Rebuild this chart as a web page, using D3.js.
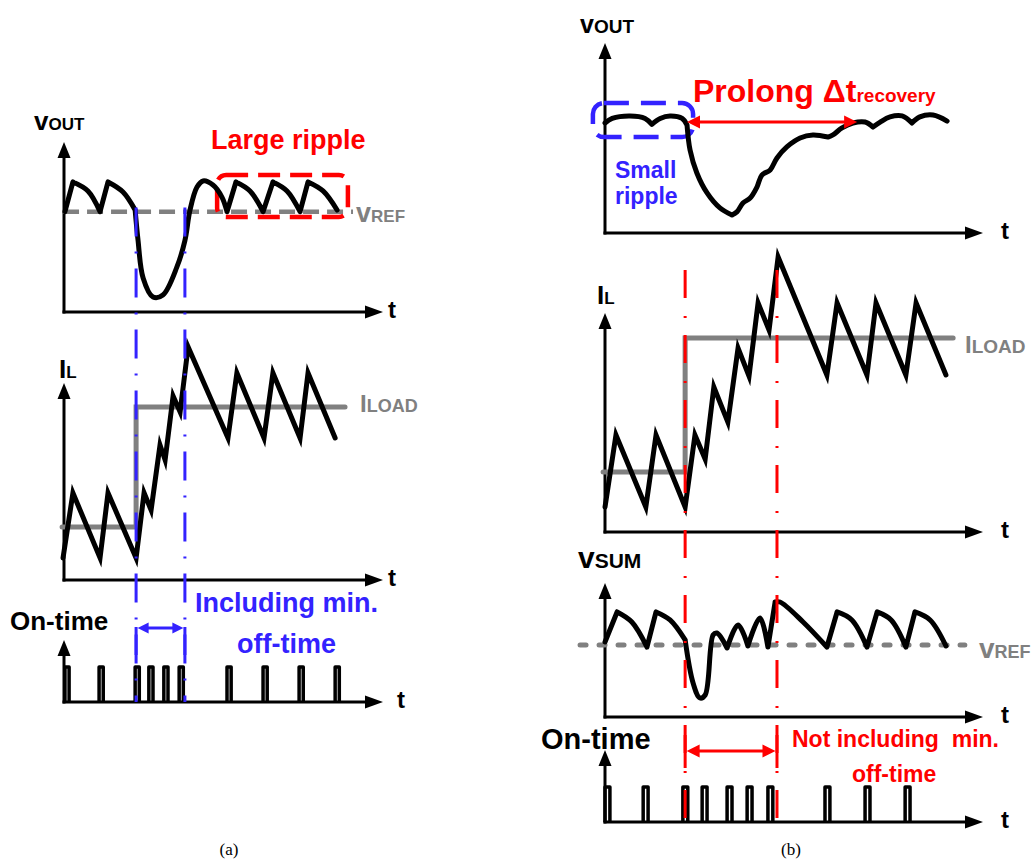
<!DOCTYPE html>
<html>
<head>
<meta charset="utf-8">
<script src="https://cdn.jsdelivr.net/npm/d3@7"></script>
<style>
  body { margin: 0; background: #fff; }
  svg { display: block; }
  text { font-family: "Liberation Sans", Arial, sans-serif; font-weight: bold; }
  .cap { font-family: "Liberation Serif", "Times New Roman", serif; font-weight: normal; }
</style>
</head>
<body>
<svg id="fig" width="1034" height="859"></svg>
<script>
// Time runs 0..100 along every panel's t axis; each signal is 0..100 of its own vertical axis.

// ---------- (a) minimum off-time included ----------
const vRefA = 59;
// vOUT split into pieces so that the switching corners stay sharp
const vOutA = [
  [[0.3, 59], [2.8, 76.5]],
  [[2.8, 76.5], [7.5, 71.2], [11.3, 59]],
  [[11.3, 59], [13.8, 76.5]],
  [[13.8, 76.5], [18.5, 70.6], [22.3, 60]],
  [[22.3, 60], [23.2, 42.4], [24.8, 20], [27.9, 8.8], [31.0, 10], [35.4, 26.5], [37.9, 42],
   [39.5, 60], [41.7, 73.5], [43.6, 77.1], [46.7, 74.7], [49.5, 67.6], [51.1, 59]],
  [[51.1, 59], [53.9, 76.5]],
  [[53.9, 76.5], [58.3, 71.2], [62.4, 59]],
  [[62.4, 59], [65.5, 76.5]],
  [[65.5, 76.5], [69.9, 71.2], [74.0, 59]],
  [[74.0, 59], [76.5, 76.5]],
  [[76.5, 76.5], [81.2, 71.2], [85.6, 60]]
];
const rippleBoxA = [[48.0, 80.6], [89.0, 55.9]];
const iLA = [[-0.3, 11.2], [2.8, 44.2], [11.3, 11.2], [13.8, 44.2], [22.6, 11.2], [25.1, 44.2],
  [27.3, 35.5], [30.1, 68.5], [31.7, 60.9], [34.2, 93.4], [36.4, 85.3], [38.9, 118.3],
  [51.4, 72.1], [54.2, 105.1], [62.7, 72.1], [65.5, 105.1], [74.0, 72.1], [76.5, 105.1], [85.0, 72.1]];
const iLoadA = [[-0.6, 26.9], [22.6, 26.9], [22.6, 87.8], [88.1, 87.8]];
const onTimeA = [0.3, 11.0, 22.3, 26.6, 31.3, 36.1, 51.1, 62.4, 73.7, 85.0];
const pulseHeightA = 56.5, pulseWidthA = 1.3;
const markersA = [22.6, 37.9];

// ---------- (b) minimum off-time not included ----------
const vOutB = [
  [[0, 57.9], [1.9, 60.3], [6.6, 61.6], [10.6, 60.3], [12.4, 57.2]],
  [[12.4, 57.2], [14.6, 60.3], [17.2, 61.6], [20.4, 60.3], [21.7, 56.8]],
  [[21.7, 56.8], [22.5, 43.7], [24.3, 31.6], [27.0, 21.1], [30.4, 13.2], [33.6, 9.5]],
  [[33.6, 9.5], [34.9, 11.1], [36.5, 15.8], [38.4, 18.4], [40.2, 24.2], [41.5, 30.5], [43.7, 33.2],
   [45.5, 39.5], [48.1, 45.3], [51.6, 50.0], [55.0, 51.6], [59.0, 50.5]],
  [[59.0, 50.5], [60.3, 51.6], [62.7, 55.3], [65.6, 57.9], [68.8, 58.4], [70.9, 55.8]],
  [[70.9, 55.8], [72.8, 58.4], [75.4, 61.1], [78.6, 61.6], [81.2, 57.9]],
  [[81.2, 57.9], [83.3, 61.1], [86.8, 62.1], [90.5, 58.9]]
];
const smallBoxB = [[-3.2, 68.4], [23.3, 50.5]];
const recoveryB = [21.7, 66.7, 58.4];
const iLB = [[0, 11.4], [2.9, 44.3], [10.8, 11.4], [13.5, 44.3], [21.2, 11.4], [23.8, 44.3],
  [26.5, 33.3], [28.8, 66.2], [32.5, 50.2], [35.2, 84.0], [38.1, 71.2], [40.5, 104.6],
  [43.4, 92.2], [45.8, 125.6], [58.7, 71.7], [61.4, 104.6], [69.3, 71.7], [71.7, 104.6],
  [79.6, 71.7], [82.3, 104.6], [90.2, 71.7]];
const iLoadB = [[-0.5, 27.4], [21.2, 27.4], [21.2, 88.6], [92.1, 88.6]];
const vRefB = 53.7;
const vSumB = [
  [[0, 56], [3.2, 78.4]],
  [[3.2, 78.4], [7.1, 70.9], [11.1, 52.2]],
  [[11.1, 52.2], [13.5, 78.4]],
  [[13.5, 78.4], [17.2, 72.4], [21.2, 57.5]],
  [[21.2, 57.5], [23.3, 25.4], [25.1, 14.2], [26.5, 16.4], [28.6, 61.2], [29.6, 62.7], [32.3, 51.5]],
  [[32.3, 51.5], [35.2, 68.7], [37.8, 53.0]],
  [[37.8, 53.0], [41.0, 73.9], [43.1, 52.2]],
  [[43.1, 52.2], [45.0, 85.8]],
  [[45.0, 85.8], [46.3, 85.8], [52.4, 70.9], [58.7, 52.2]],
  [[58.7, 52.2], [61.4, 78.4]],
  [[61.4, 78.4], [65.3, 72.4], [69.3, 52.2]],
  [[69.3, 52.2], [72.0, 78.4]],
  [[72.0, 78.4], [75.7, 72.4], [79.6, 52.2]],
  [[79.6, 52.2], [82.0, 78.4]],
  [[82.0, 78.4], [86.0, 72.4], [90.2, 53.0]]
];
const onTimeB = [0, 10.1, 20.6, 25.7, 32.3, 37.6, 43.1, 58.2, 68.8, 79.4];
const pulseHeightB = 48.6, pulseWidthB = 1.3;
const markersB = [21.2, 45.5];

// ---------- colours ----------
const BLUE = "#3322ff", RED = "#ff0000", GRAY = "#808080", INK = "#000";

const svg = d3.select("#fig");

function panel(xr, yr) {
  return {
    x: d3.scaleLinear().domain([0, 100]).range(xr),
    y: d3.scaleLinear().domain([0, 100]).range(yr)
  };
}
const aV = panel([64, 383], [312, 142]);
const aI = panel([64, 383], [580, 383]);
const aOn = panel([64, 383], [702, 640]);
const bV = panel([605, 983], [233, 43]);
const bI = panel([605, 983], [532, 313]);
const bS = panel([605, 983], [717, 583]);
const bOn = panel([605, 983], [822, 750]);

function axes(p) {
  const x0 = p.x(0), x1 = p.x(100), y0 = p.y(0), y1 = p.y(100);
  const g = svg.append("g");
  g.append("line").attr("x1", x0).attr("y1", y0 + 1.5).attr("x2", x0).attr("y2", y1 + 12)
    .attr("stroke", INK).attr("stroke-width", 3);
  g.append("path").attr("d", `M${x0},${y1}L${x0 - 6.5},${y1 + 16}L${x0 + 6.5},${y1 + 16}Z`).attr("fill", INK);
  g.append("line").attr("x1", x0 - 1.5).attr("y1", y0).attr("x2", x1 - 14).attr("y2", y0)
    .attr("stroke", INK).attr("stroke-width", 3);
  g.append("path").attr("d", `M${x1},${y0}L${x1 - 18},${y0 - 6.5}L${x1 - 18},${y0 + 6.5}Z`).attr("fill", INK);
}

function curvePieces(p, pieces, color, width) {
  const line = d3.line().x(d => p.x(d[0])).y(d => p.y(d[1])).curve(d3.curveCatmullRom.alpha(0.5));
  svg.append("path").attr("d", pieces.map(line).join(""))
    .attr("fill", "none").attr("stroke", color).attr("stroke-width", width)
    .attr("stroke-linecap", "round").attr("stroke-linejoin", "round");
}

function polyline(p, pts, color, width) {
  const line = d3.line().x(d => p.x(d[0])).y(d => p.y(d[1]));
  return svg.append("path").attr("d", line(pts))
    .attr("fill", "none").attr("stroke", color).attr("stroke-width", width)
    .attr("stroke-linecap", "round").attr("stroke-linejoin", "miter").attr("stroke-miterlimit", 6);
}

function hline(p, v, t0, t1, color, width, dash, cap) {
  svg.append("line").attr("x1", p.x(t0)).attr("x2", p.x(t1)).attr("y1", p.y(v)).attr("y2", p.y(v))
    .attr("stroke", color).attr("stroke-width", width).attr("stroke-dasharray", dash)
    .attr("stroke-linecap", cap || "butt");
}

function pulses(p, starts, h, w) {
  svg.append("g").selectAll("path").data(starts).join("path")
    .attr("d", t => `M${p.x(t)},${p.y(0)}V${p.y(h)}H${p.x(t + w)}V${p.y(0)}`)
    .attr("fill", "none").attr("stroke", INK).attr("stroke-width", 3.5).attr("stroke-linejoin", "round");
}

function box(p, corners, color, rx, dash) {
  const [a, b] = corners;
  svg.append("rect")
    .attr("x", p.x(a[0])).attr("y", p.y(a[1]))
    .attr("width", p.x(b[0]) - p.x(a[0])).attr("height", p.y(b[1]) - p.y(a[1]))
    .attr("rx", rx).attr("fill", "none").attr("stroke", color).attr("stroke-width", 4.5)
    .attr("stroke-dasharray", dash);
}

function dashDot(x, yTop, yBot, color, dash) {
  svg.append("line").attr("x1", x).attr("x2", x).attr("y1", yTop).attr("y2", yBot)
    .attr("stroke", color).attr("stroke-width", 3).attr("stroke-dasharray", dash);
}

function doubleArrow(xa, xb, y, color, len, half) {
  const g = svg.append("g");
  g.append("line").attr("x1", xa + len - 2).attr("x2", xb - len + 2).attr("y1", y).attr("y2", y)
    .attr("stroke", color).attr("stroke-width", 3);
  g.append("path").attr("d", `M${xa},${y}L${xa + len},${y - half}L${xa + len},${y + half}Z`).attr("fill", color);
  g.append("path").attr("d", `M${xb},${y}L${xb - len},${y - half}L${xb - len},${y + half}Z`).attr("fill", color);
}

function tick(x, y1, y2, color) {
  svg.append("line").attr("x1", x).attr("x2", x).attr("y1", y1).attr("y2", y2)
    .attr("stroke", color).attr("stroke-width", 3);
}

function label(x, y, parts, color, anchor) {
  const t = svg.append("text").attr("x", x).attr("y", y).attr("fill", color || INK)
    .attr("text-anchor", anchor || "start");
  parts.forEach(([s, size]) => t.append("tspan").attr("font-size", size).text(s));
  return t;
}

function tLabel(p, dx) {
  label(p.x(100) + dx, p.y(0) + 6, [["t", 24]]);
}

// ================= (a) =================
[aV, aI, aOn].forEach(axes);

// vOUT
hline(aV, vRefA, -0.3, 90.6, GRAY, 4.5, "16,8");
box(aV, rippleBoxA, RED, 9, "22,10");
curvePieces(aV, vOutA, INK, 5);

// IL
polyline(aI, iLoadA, GRAY, 5);
polyline(aI, iLA, INK, 5);

// on-time pulses
pulses(aOn, onTimeA, pulseHeightA, pulseWidthA);

// transient markers
markersA.forEach(t => dashDot(aV.x(t), aV.y(vRefA + 2.4), aOn.y(0), BLUE, "29,15,2,15"));
const yArrA = aOn.y(0) - 74;
tick(aV.x(markersA[0]), yArrA - 1, yArrA + 27, BLUE);
tick(aV.x(markersA[1]), yArrA - 1, yArrA + 27, BLUE);
doubleArrow(aV.x(markersA[0]) + 1.5, aV.x(markersA[1]) - 1.5, yArrA, BLUE, 11, 5.5);

// labels
label(34, 130, [["v", 26], ["OUT", 17]]);
label(211, 149, [["Large ripple", 27]], RED);
label(356, 222, [["v", 27], ["REF", 17]], GRAY);
label(59, 378, [["I", 26], ["L", 17]]);
label(360, 412, [["I", 24], ["LOAD", 18]], GRAY);
label(195, 612, [["Including min.", 27]], BLUE);
label(237, 653, [["off-time", 27]], BLUE);
label(10, 630, [["On-time", 26]]);
tLabel(aV, 5); tLabel(aI, 5); tLabel(aOn, 14);
svg.append("text").attr("class", "cap").attr("x", 229).attr("y", 855).attr("text-anchor", "middle")
  .attr("font-size", 17).text("(a)");

// ================= (b) =================
[bV, bI, bS, bOn].forEach(axes);

// vOUT
box(bV, smallBoxB, BLUE, 11, "25,12");
curvePieces(bV, vOutB, INK, 5);
doubleArrow(bV.x(recoveryB[0]), bV.x(recoveryB[1]), bV.y(recoveryB[2]), RED, 13, 6.5);

// IL
polyline(bI, iLoadB, GRAY, 5);
polyline(bI, iLB, INK, 5);

// vSUM
hline(bS, vRefB, -6.6, 95.2, GRAY, 5, "6,13", "round");
curvePieces(bS, vSumB, INK, 5);

// on-time pulses
pulses(bOn, onTimeB, pulseHeightB, pulseWidthB);

// transient markers
markersB.forEach(t => dashDot(bV.x(t), bI.y(119.6), bOn.y(0), RED, "28,18,2,17"));
const yArrB = bOn.y(0) - 71;
tick(bV.x(markersB[0]), yArrB - 16, yArrB + 17, RED);
tick(bV.x(markersB[1]), yArrB - 16, yArrB + 17, RED);
doubleArrow(bV.x(markersB[0]) + 1.5, bV.x(markersB[1]) - 1.5, yArrB, RED, 13, 6.5);

// labels
label(580, 33, [["v", 25], ["OUT", 19]]);
label(693, 102, [["Prolong \u0394t", 32], ["recovery", 19]], RED);
label(615, 178, [["Small", 23]], BLUE);
label(615, 204, [["ripple", 23]], BLUE);
label(597, 304, [["I", 26], ["L", 17]]);
label(965, 353, [["I", 24], ["LOAD", 19]], GRAY);
label(578, 568, [["v", 30], ["SUM", 21]]);
label(979, 658, [["v", 28], ["REF", 18]], GRAY);
label(541, 749, [["On-time", 29]]);
label(792, 747, [["Not including\u00a0 min.", 23]], RED);
label(852, 782, [["off-time", 23]], RED);
tLabel(bV, 18); tLabel(bI, 18); tLabel(bS, 18); tLabel(bOn, 18);
svg.append("text").attr("class", "cap").attr("x", 791).attr("y", 855).attr("text-anchor", "middle")
  .attr("font-size", 17).text("(b)");
</script>
</body>
</html>
